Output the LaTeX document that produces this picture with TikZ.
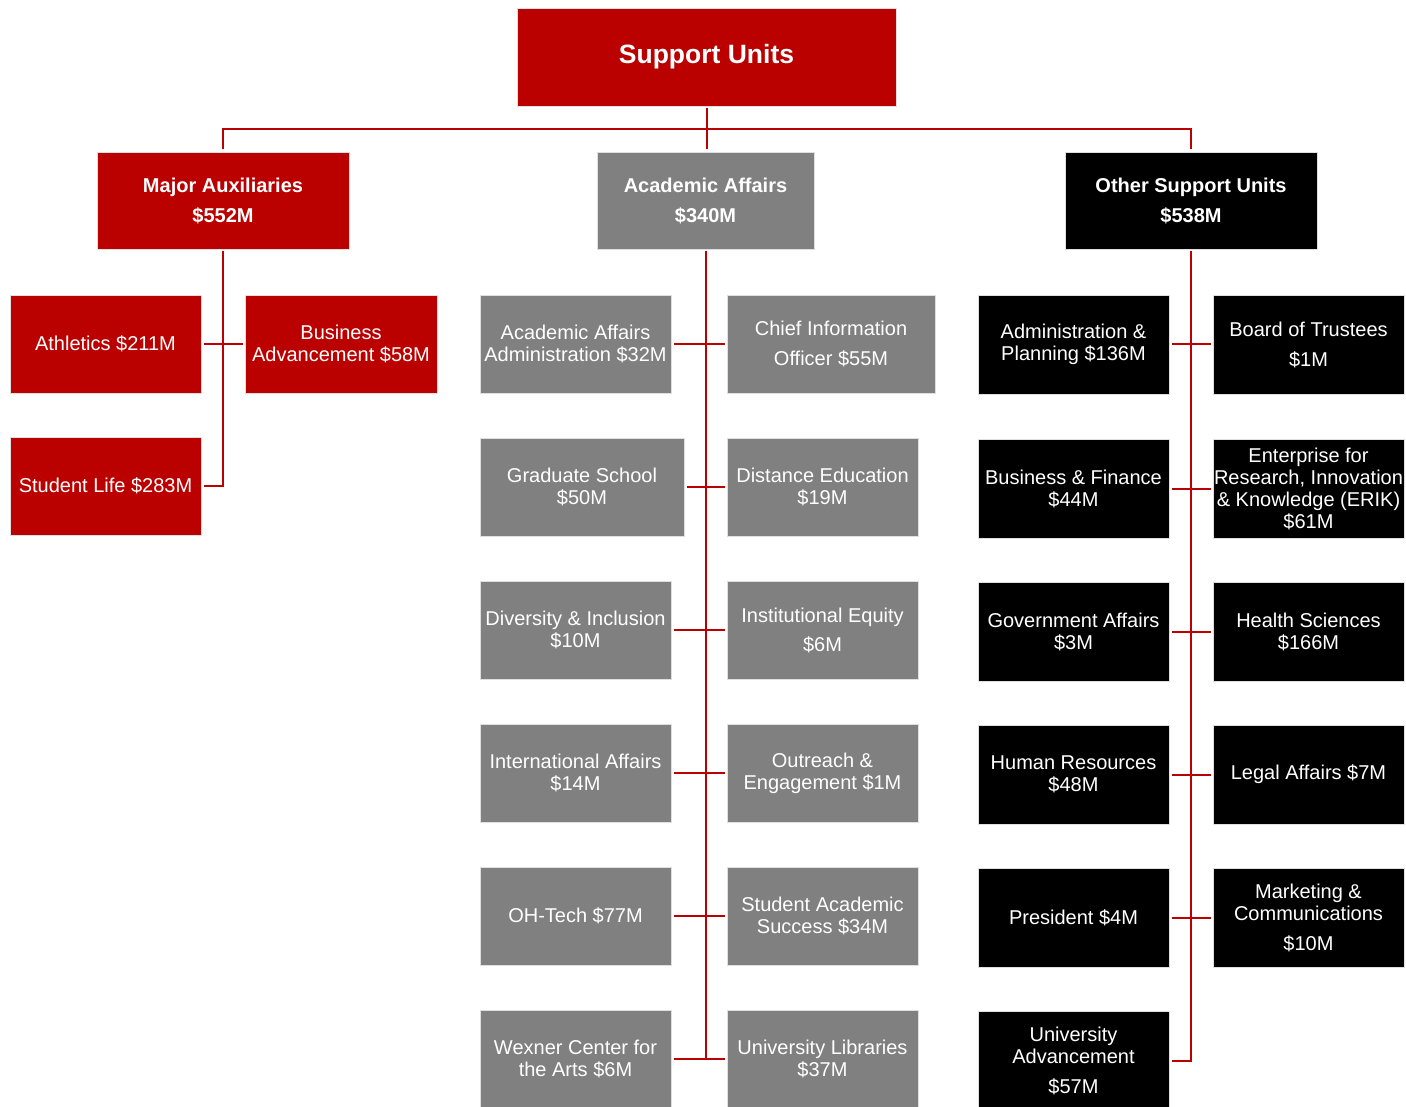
\documentclass[tikz,border=0pt]{standalone}
\usepackage{fontspec}
\setmainfont{Liberation Sans}
\definecolor{osured}{HTML}{BB0000}
\definecolor{osugray}{HTML}{808080}
\tikzset{
  unit/.style={rectangle,inner sep=0pt,outer sep=2.5pt,text=white,align=center,
    draw=gray!25,line width=0.75pt,anchor=north west,xshift=-2.5pt,yshift=2.5pt,
    minimum height=98pt,font=\fontsize{20}{22}\selectfont},
  redunit/.style={unit,fill=osured,minimum width=#1},
  grayunit/.style={unit,fill=osugray,minimum width=#1},
  blackunit/.style={unit,fill=black,minimum width=#1},
  headunit/.style={font=\fontsize{20}{30}\selectfont\bfseries},
  link/.style={draw=osured,line width=2pt}
}
\begin{document}
\begin{tikzpicture}[x=1pt,y=-1pt]
\useasboundingbox (0,0) rectangle (1406,1107);
% top and second level
\node[redunit=379,font=\fontsize{26.5}{30}\selectfont\bfseries] (top) at (517,8) {Support Units};
\node[redunit=252,minimum height=97pt,headunit] (maj) at (97,152) {Major Auxiliaries\\\$552M};
\node[grayunit=217,minimum height=97pt,headunit] (aca) at (597,152) {Academic Affairs\\\$340M};
\node[blackunit=252,minimum height=97pt,headunit] (oth) at (1065,152) {Other Support Units\\\$538M};
\coordinate (bus) at (top.south |- 0,129);
\draw[link] (top.south) -- (bus);
\draw[link] (maj.north) |- (bus) -| (oth.north);
\draw[link] (bus) -- (bus |- aca.north);
% major auxiliaries
\node[redunit=191] (ath) at (10,295) {Athletics \$211M};
\node[redunit=192] (biz) at (245,295) {Business\\Advancement \$58M};
\node[redunit=191] (stu) at (10,437) {Student Life \$283M};
\draw[link] (maj.south) |- (stu.east);
\draw[link] (ath.east) -- (biz.west);
% academic affairs
\node[grayunit=191] (aL1) at (480,295) {Academic Affairs\\Administration \$32M};
\node[grayunit=204] (aL2) at (480,438) {Graduate School\\\$50M};
\node[grayunit=191] (aL3) at (480,581) {Diversity \& Inclusion\\\$10M};
\node[grayunit=191] (aL4) at (480,724) {International Affairs\\\$14M};
\node[grayunit=191] (aL5) at (480,867) {OH-Tech \$77M};
\node[grayunit=191] (aL6) at (480,1010) {Wexner Center for\\the Arts \$6M};
\node[grayunit=208] (aR1) at (727,295) {Chief Information\\[8pt]Officer \$55M};
\node[grayunit=191] (aR2) at (727,438) {Distance Education\\\$19M};
\node[grayunit=191] (aR3) at (727,581) {Institutional Equity\\[7pt]\$6M};
\node[grayunit=191] (aR4) at (727,724) {Outreach \&\\Engagement \$1M};
\node[grayunit=191] (aR5) at (727,867) {Student Academic\\Success \$34M};
\node[grayunit=191] (aR6) at (727,1010) {University Libraries\\\$37M};
\draw[link] (aca.south) -- (aca.south |- aL6.east);
\foreach \i in {1,...,6}{
  \draw[link] (aL\i.east) -- (aR\i.west);
}
% other support units
\node[blackunit=191,minimum height=99pt] (oL1) at (978,295) {Administration \&\\Planning \$136M};
\node[blackunit=191,minimum height=99pt] (oL2) at (978,439) {Business \& Finance\\\$44M};
\node[blackunit=191,minimum height=99pt] (oL3) at (978,582) {Government Affairs\\\$3M};
\node[blackunit=191,minimum height=99pt] (oL4) at (978,725) {Human Resources\\\$48M};
\node[blackunit=191,minimum height=99pt] (oL5) at (978,868) {President \$4M};
\node[blackunit=191,minimum height=99pt] (oL6) at (978,1011) {University\\Advancement\\[8pt]\$57M};
\node[blackunit=191,minimum height=99pt] (oR1) at (1213,295) {Board of Trustees\\[8pt]\$1M};
\node[blackunit=191,minimum height=99pt] (oR2) at (1213,439) {Enterprise for\\Research, Innovation\\\& Knowledge (ERIK)\\\$61M};
\node[blackunit=191,minimum height=99pt] (oR3) at (1213,582) {Health Sciences\\\$166M};
\node[blackunit=191,minimum height=99pt] (oR4) at (1213,725) {Legal Affairs \$7M};
\node[blackunit=191,minimum height=99pt] (oR5) at (1213,868) {Marketing \&\\Communications\\[8pt]\$10M};
\draw[link] (oth.south) |- (oL6.east);
\foreach \i in {1,...,5}{
  \draw[link] (oL\i.east) -- (oR\i.west);
}
\end{tikzpicture}
\end{document}
